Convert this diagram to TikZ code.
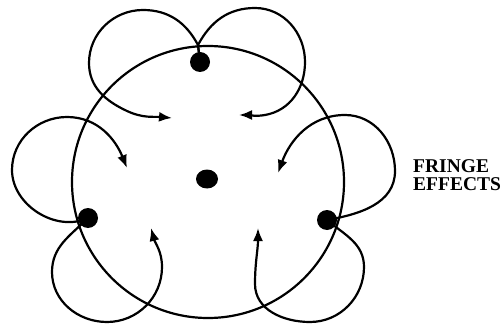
\documentclass[tikz,border=0pt]{standalone}
\usepackage{fontspec}
\setmainfont{Liberation Serif}
\usetikzlibrary{arrows.meta,shapes.geometric}
\tikzset{
  flow/.style={line width=2.2pt, draw=black, -{Latex[length=13pt,width=10pt]}},
  pole/.style={circle, fill=black, inner sep=0pt, minimum size=20pt},
  label/.style={font=\bfseries\fontsize{19.5}{18}\selectfont, align=left, inner sep=0pt}
}
\begin{document}
\begin{tikzpicture}[x=1pt,y=1pt]
\useasboundingbox (0,0) rectangle (502,324);
% large circle
\node[circle, draw, line width=2.2pt, minimum size=272pt, inner sep=0pt] (ring) at (208,142) {};
% dots
\coordinate (Tc) at (200,262);
\coordinate (Lc) at (88,106);
\coordinate (Rc) at (327,104);
\coordinate (cusp) at (198,279);
% arrow tips
\coordinate (tTL) at (172,206);
\coordinate (tTR) at (239,209);
\coordinate (tLU) at (127,156);
\coordinate (tLL) at (151,96);
\coordinate (tRU) at (278,151);
\coordinate (tRL) at (258,96);
% loops of top pole
\draw[flow] (Tc) -- (cusp) to[out=118,in=0] (143,314) to[out=180,in=90] (89,261)
  to[out=270,in=155] (127,213) to[out=-25,in=175] (tTL);
\draw[flow] (Tc) -- (cusp) to[out=62,in=180] (255,316) to[out=0,in=90] (305,262)
  to[out=270,in=10] (265,209) to[out=190,in=0] (tTR);
% loops of left pole
\draw[flow] (Lc) to[out=205,in=270] (12,154) to[out=90,in=180] (67,207)
  to[out=0,in=112] (tLU);
\draw[flow] (Lc) to[out=225,in=90] (52,52) to[out=270,in=180] (107,2)
  to[out=0,in=270] (162,57) to[out=90,in=-75] (tLL);
% loops of right pole
\draw[flow] (Rc) to[out=10,in=270] (395,153) to[out=90,in=0] (345,209)
  to[out=180,in=70] (tRU);
\draw[flow] (Rc) to[out=-40,in=90] (364,57) to[out=270,in=0] (310,2)
  to[out=180,in=270] (255,40) to[out=90,in=-90] (tRL);
% poles
\node[pole] (T) at (Tc) {};
\node[pole] (L) at (Lc) {};
\node[pole] (R) at (Rc) {};
\node[ellipse, fill=black, inner sep=0pt, minimum width=22pt, minimum height=19pt] (C) at (207,145) {};
% label
\node[label, anchor=base west] (fringe) at (413,134) {FRINGE\\EFFECTS};
\end{tikzpicture}
\end{document}
